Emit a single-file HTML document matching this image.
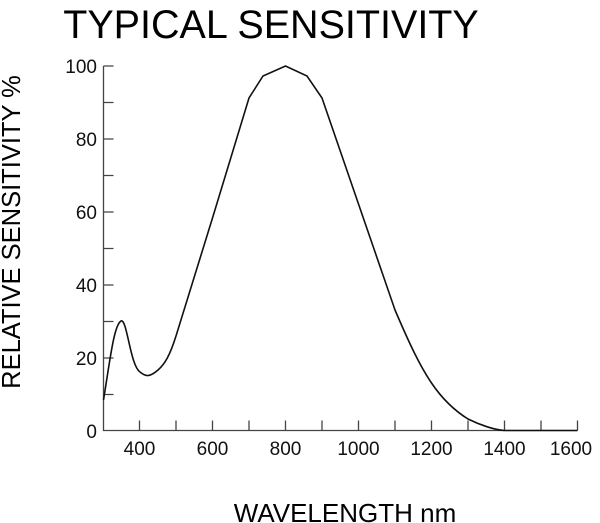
<!DOCTYPE html>
<html><head><style>body{margin:0;background:#fff}svg{display:block}</style></head><body>
<svg width="600" height="523" xmlns="http://www.w3.org/2000/svg" font-family="Liberation Sans, sans-serif">
<text x="271" y="38" font-size="39.5" text-anchor="middle">TYPICAL SENSITIVITY</text>
<text transform="translate(20,232) rotate(-90)" font-size="25.5" text-anchor="middle">RELATIVE SENSITIVITY %</text>
<text x="345" y="522" font-size="26" text-anchor="middle">WAVELENGTH nm</text>
<g stroke="#444" stroke-width="1.3" fill="none">
<path d="M103.5 66V430.5H577.5"/>
<path d="M103.5 66h10M103.5 102.5h10M103.5 139h10M103.5 175.5h10M103.5 212h10M103.5 248.5h10M103.5 285h10M103.5 321.5h10M103.5 358h10M103.5 394.5h10"/>
<path d="M139.5 430.5v-10M176 430.5v-10M212.5 430.5v-10M249 430.5v-10M285.5 430.5v-10M322 430.5v-10M358.5 430.5v-10M395 430.5v-10M431.5 430.5v-10M468 430.5v-10M504.5 430.5v-10M541 430.5v-10M577.5 430.5v-10"/>
</g>
<g font-size="19" fill="#111">
<text x="97" y="73" text-anchor="end">100</text>
<text x="97" y="146" text-anchor="end">80</text>
<text x="97" y="219" text-anchor="end">60</text>
<text x="97" y="292" text-anchor="end">40</text>
<text x="97" y="365" text-anchor="end">20</text>
<text x="97" y="438" text-anchor="end">0</text>
<g text-anchor="middle">
<text x="139.5" y="455">400</text><text x="212.5" y="455">600</text><text x="285.5" y="455">800</text><text x="358.5" y="455">1000</text><text x="431.5" y="455">1200</text><text x="504.5" y="455">1400</text><text x="571" y="455">1600</text>
</g></g>
<path fill="none" stroke="#111" stroke-width="1.6" d="M103.5 400 C110 360,114 325,121 321 C127 318,130 365,140 372 C146 377,150 377,158 370 C165 364,170 355,176 336 L212.5 218 L249 98 L263 76 L285.5 66 L307 76 L322 98 L358.5 204 L395 310 C410 345,420 366,431.5 383 C445 403,460 414,468 419 C480 425,495 430,504.5 430.5 L577.5 430.5"/>
</svg>
</body></html>
